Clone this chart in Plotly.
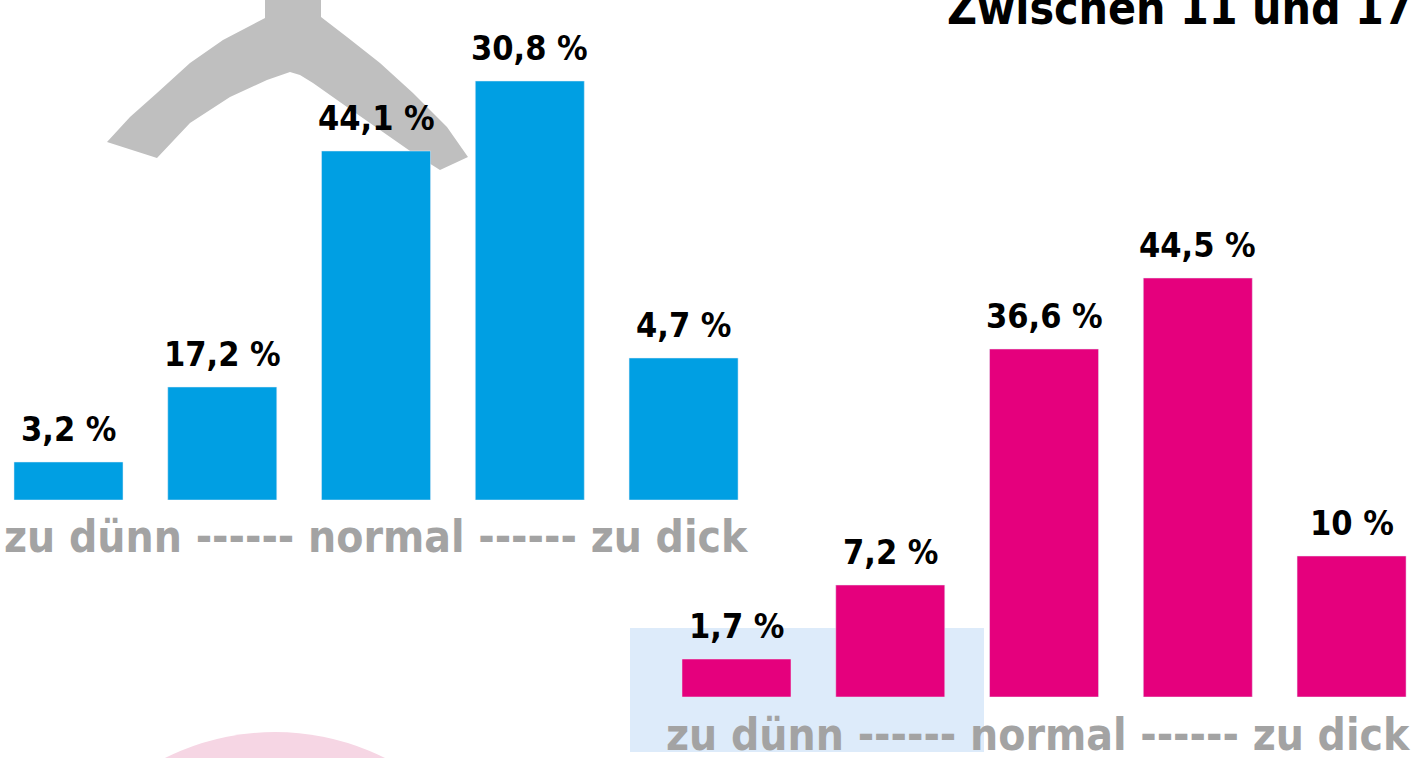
import plotly.graph_objects as go

# ---------------- data ----------------
categories = ["zu dünn", "eher dünn", "normal", "eher dick", "zu dick"]
scale_labels = ["zu dünn", "normal", "zu dick"]

# percentages printed above the bars
left_values = [3.2, 17.2, 44.1, 30.8, 4.7]
right_values = [1.7, 7.2, 36.6, 44.5, 10]

# bar heights as drawn in the picture (relative units)
left_heights = [3.8, 11.3, 34.9, 41.9, 14.2]
right_heights = [3.8, 11.2, 34.8, 41.9, 14.1]

title_text = "Zwischen 11 und 17 Jahren"

# ---------------- styling ----------------
W, H = 1412, 758
FONT = "Noto Sans ExtraCondensed, Noto Sans Condensed, Liberation Sans Narrow, DejaVu Sans Condensed, sans-serif"
BLUE = "#009FE3"
MAGENTA = "#E5007D"
GRAY_TEXT = "#A3A3A3"
LABEL_SIZE = 34
SCALE_SIZE = 44
TITLE_SIZE = 46


def px_x(p):
    return p / W


def px_y(p):
    return 1 - p / H


def fmt(v):
    return f"{v:g}".replace(".", ",") + " %"


def poly(points):
    return "M " + " L ".join(f"{px_x(x):.5f},{px_y(y):.5f}" for x, y in points) + " Z"


fig = go.Figure()

fig.add_trace(go.Bar(x=categories, y=left_heights, marker_color=BLUE, width=0.709,
                     xaxis="x", yaxis="y", hoverinfo="skip", showlegend=False))
fig.add_trace(go.Bar(x=categories, y=right_heights, marker_color=MAGENTA, width=0.709,
                     xaxis="x2", yaxis="y2", hoverinfo="skip", showlegend=False))

annotations = []
for c, h, v in zip(categories, left_heights, left_values):
    annotations.append(dict(x=c, y=h, xref="x", yref="y", text=fmt(v), showarrow=False,
                            yanchor="bottom", yshift=11,
                            font=dict(family=FONT, size=LABEL_SIZE, color="black", weight="bold")))
for c, h, v in zip(categories, right_heights, right_values):
    annotations.append(dict(x=c, y=h, xref="x2", yref="y2", text=fmt(v), showarrow=False,
                            yanchor="bottom", yshift=11,
                            font=dict(family=FONT, size=LABEL_SIZE, color="black", weight="bold")))

scale_text = " ------ ".join(scale_labels)
annotations.append(dict(x=px_x(376), y=px_y(564), xref="paper", yref="paper", text=scale_text,
                        showarrow=False, xanchor="center", yanchor="bottom",
                        font=dict(family=FONT, size=SCALE_SIZE, color=GRAY_TEXT, weight="bold")))
annotations.append(dict(x=px_x(1038), y=px_y(762), xref="paper", yref="paper", text=scale_text,
                        showarrow=False, xanchor="center", yanchor="bottom",
                        font=dict(family=FONT, size=SCALE_SIZE, color=GRAY_TEXT, weight="bold")))
annotations.append(dict(x=px_x(945), y=px_y(37), xref="paper", yref="paper", text=title_text,
                        showarrow=False, xanchor="left", yanchor="bottom",
                        font=dict(family=FONT, size=TITLE_SIZE, color="black", weight="bold")))

# decorative background shapes
gray_shape = [(265, -5), (321, -5), (321, 17), (347, 37), (380, 63), (413, 93), (447, 127),
              (468, 157), (440, 170), (413, 153), (380, 130), (347, 107), (313, 83), (300, 75),
              (290, 72), (267, 80), (230, 97), (190, 123), (157, 158), (107, 142), (130, 117),
              (157, 93), (190, 63), (223, 40), (265, 18)]
shapes = [
    dict(type="path", path=poly(gray_shape), xref="paper", yref="paper",
         fillcolor="#BFBFBF", line=dict(width=0), layer="below"),
    dict(type="circle", xref="paper", yref="paper",
         x0=px_x(275 - 246), x1=px_x(275 + 246), y0=px_y(732 + 2 * 246), y1=px_y(732),
         fillcolor="#F6D6E4", line=dict(width=0), layer="below"),
    dict(type="rect", xref="paper", yref="paper",
         x0=px_x(630), x1=px_x(984), y0=px_y(752), y1=px_y(628),
         fillcolor="#DDEBFA", line=dict(width=0), layer="below"),
]

axis_common = dict(showgrid=False, zeroline=False, showticklabels=False, showline=False,
                   ticks="", fixedrange=True)

fig.update_layout(
    width=W, height=H,
    margin=dict(l=0, r=0, t=0, b=0),
    paper_bgcolor="white", plot_bgcolor="rgba(0,0,0,0)",
    xaxis=dict(domain=[0, 744 / W], range=[-0.4455, 4.393], **axis_common),
    yaxis=dict(domain=[px_y(500), 1], range=[0, 50], **axis_common),
    xaxis2=dict(domain=[668 / W, 1], range=[-0.4455, 4.393], anchor="y2", **axis_common),
    yaxis2=dict(domain=[px_y(697), px_y(197)], range=[0, 50], anchor="x2", **axis_common),
    annotations=annotations,
    shapes=shapes,
    showlegend=False,
)

fig.write_html("out.html", config={"displayModeBar": False},
               post_script="document.body.style.margin='0';")
